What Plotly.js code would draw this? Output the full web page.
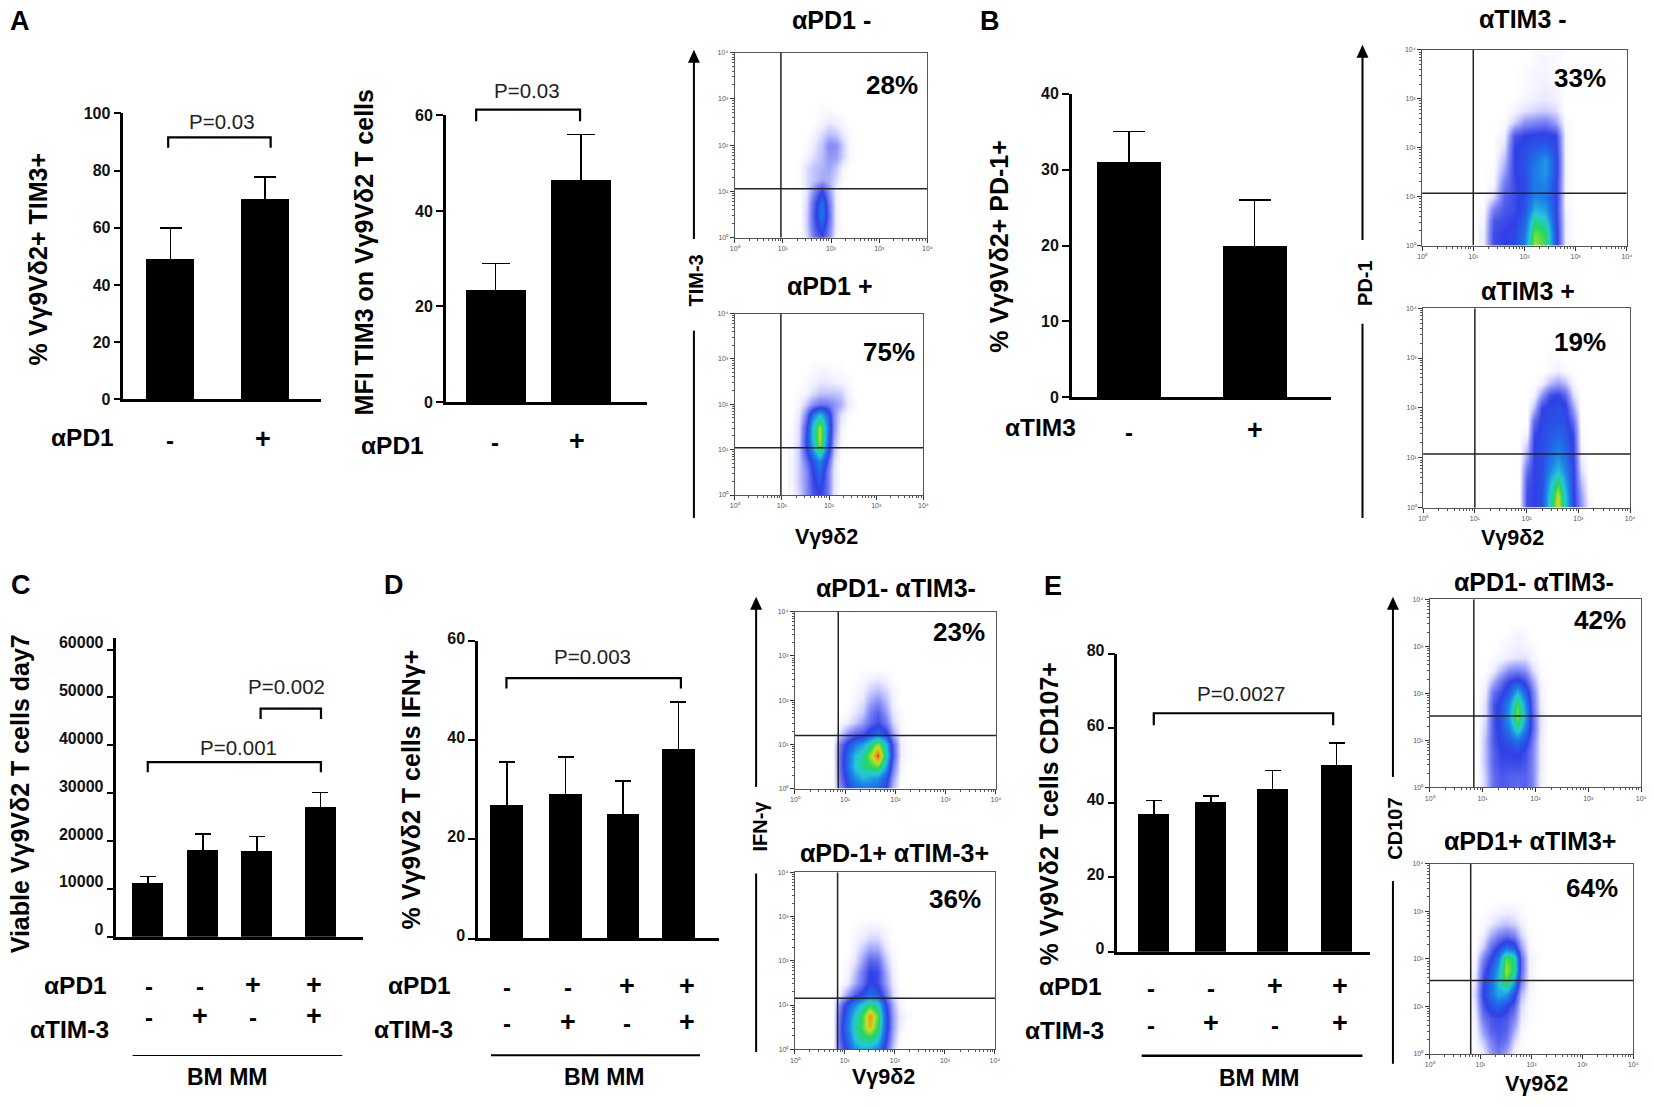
<!DOCTYPE html>
<html>
<head>
<meta charset="utf-8">
<script src="https://cdn.plot.ly/plotly-3.0.1.min.js"></script>
<style>html,body{margin:0;padding:0;background:#fff}</style>
</head>
<body>
<div id="fig" style="width:1654px;height:1108px"></div>
<script>
// bar values and +SD
const a1Values = [48.8, 69.9];
const a1Err = [11.1, 7.8];
const a2Values = [23.4, 46.4];
const a2Err = [5.6, 9.6];
const bValues = [31, 20];
const bErr = [4, 6];
const cValues = [11300, 18250, 17900, 27150];
const cErr = [1300, 3250, 3000, 2950];
const dValues = [26.9, 29.1, 25, 38.2];
const dErr = [8.7, 7.5, 6.8, 9.6];
const eValues = [37.2, 40.2, 43.9, 50.3];
const eErr = [3.4, 1.6, 4.7, 5.7];

const signsPD1 = ["-", "-", "+", "+"];
const signsTIM3 = ["-", "+", "-", "+"];

const a1Ticks = [0, 20, 40, 60, 80, 100];
const a2Ticks = [0, 20, 40, 60];
const bTicks = [0, 10, 20, 30, 40];
const cTicks = [0, 10000, 20000, 30000, 40000, 50000, 60000];
const dTicks = [0, 20, 40, 60];
const eTicks = [0, 20, 40, 60, 80];

// flow plots: density per cell estimated by eye, 0-100, rows go up from 10^0 in quarter decades
const flowY = [0, 0.25, 0.5, 0.75, 1, 1.25, 1.5, 1.75, 2, 2.25, 2.5, 2.75, 3, 3.25, 3.5, 3.75, 4];
const flowXA = [1.2, 1.35, 1.5, 1.65, 1.8, 1.95, 2.1, 2.25, 2.4, 2.55];
const flowXB1 = [1.2, 1.4, 1.6, 1.8, 2, 2.2, 2.4, 2.6, 2.8, 3];
const flowXB2 = [1.85, 2, 2.15, 2.3, 2.45, 2.6, 2.75, 2.9, 3.05, 3.2];
const flowXD = [0.75, 0.9, 1.05, 1.2, 1.35, 1.5, 1.65, 1.8, 1.95, 2.1, 2.25];
const flowXE1 = [0.9, 1.05, 1.2, 1.35, 1.5, 1.65, 1.8, 1.95, 2.1, 2.25];
const flowXE2 = [0.75, 0.9, 1.05, 1.2, 1.35, 1.5, 1.65, 1.8, 1.95, 2.1];

const densA1 = [
  [0,0,6,20,28,16,2,0,0,0],
  [0,0,8,24,36,20,3,0,0,0],
  [0,0,8,26,44,22,3,0,0,0],
  [0,0,7,24,42,20,3,0,0,0],
  [0,0,5,17,30,15,3,0,0,0],
  [0,1,6,9,13,11,6,1,0,0],
  [0,1,6,9,11,13,9,2,0,0],
  [0,0,2,6,10,15,14,7,1,0],
  [0,0,1,4,9,17,16,8,1,0],
  [0,0,0,2,6,10,8,4,1,0],
  [0,0,0,0,2,4,3,1,0,0],
  [0,0,0,0,1,1,0,0,0,0],
  [0,0,0,0,0,0,0,0,0,0]
];
const densA2 = [
  [2,6,15,26,30,22,4,0,0,0],
  [2,8,16,28,34,22,5,0,0,0],
  [2,8,16,30,40,22,5,0,0,0],
  [2,8,20,34,46,28,6,0,0,0],
  [2,8,28,50,74,42,10,1,0,0],
  [1,6,28,58,82,48,13,2,0,0],
  [1,6,26,58,80,50,16,3,0,0],
  [0,4,18,44,58,42,16,5,1,0],
  [0,2,8,16,20,20,16,12,4,1],
  [0,1,2,6,9,9,9,8,3,0],
  [0,0,1,2,4,4,3,2,1,0],
  [0,0,0,1,2,2,1,1,0,0],
  [0,0,0,0,0,0,0,0,0,0]
];
const densB1 = [
  [3,28,30,32,45,80,72,35,3,0],
  [3,28,30,32,42,76,70,35,3,0],
  [2,26,28,30,38,66,60,33,3,0],
  [1,18,26,28,34,54,50,32,2,0],
  [0,6,24,28,33,46,44,32,2,0],
  [0,2,20,28,33,44,46,32,2,0],
  [0,1,14,30,34,45,50,34,2,0],
  [0,0,10,30,34,42,50,34,2,0],
  [0,0,6,30,32,36,38,32,2,0],
  [0,0,3,26,30,32,32,30,2,0],
  [0,0,1,8,16,18,20,14,1,0],
  [0,0,0,2,5,7,8,6,0,0],
  [0,0,0,0,2,3,4,3,0,0],
  [0,0,0,0,1,2,3,2,0,0],
  [0,0,0,0,1,2,2,1,0,0],
  [0,0,0,0,0,1,2,1,0,0],
  [0,0,0,0,0,1,1,1,0,0]
];
const densB2 = [
  [0,28,30,34,62,85,60,32,16,2],
  [0,28,30,34,60,82,58,32,14,1],
  [0,26,30,33,54,70,52,32,10,0],
  [0,22,30,33,46,56,46,32,6,0],
  [0,14,30,33,42,48,42,30,3,0],
  [0,8,30,33,38,44,38,30,2,0],
  [0,2,28,32,36,38,36,28,1,0],
  [0,0,22,32,33,34,33,22,0,0],
  [0,0,10,30,32,33,32,14,0,0],
  [0,0,2,16,28,30,24,6,0,0],
  [0,0,0,3,10,14,10,2,0,0],
  [0,0,0,0,1,3,1,0,0,0],
  [0,0,0,0,1,1,0,0,0,0],
  [0,0,0,0,0,0,0,0,0,0]
];
const densD1 = [
  [0,16,30,38,40,42,38,30,10,0,0],
  [0,20,36,48,56,52,50,36,14,1,0],
  [0,22,42,58,66,70,74,52,20,2,0],
  [0,22,40,56,64,78,98,64,26,3,1],
  [0,20,34,44,52,64,80,58,24,3,1],
  [0,6,16,22,26,34,40,32,13,2,0],
  [0,1,4,8,14,22,28,20,7,1,0],
  [0,0,1,4,8,18,24,14,4,1,0],
  [0,0,0,2,5,12,16,10,3,0,0],
  [0,0,0,1,3,7,9,6,2,0,0],
  [0,0,0,0,1,3,4,2,0,0,0],
  [0,0,0,0,0,0,0,0,0,0,0]
];
const densD2 = [
  [0,20,34,48,54,52,46,28,8,0,0],
  [0,24,40,58,66,68,60,34,12,1,0],
  [0,24,44,62,74,88,70,40,14,3,0],
  [0,22,42,58,72,92,74,40,14,4,1],
  [0,18,36,48,60,70,62,34,12,2,0],
  [0,3,14,24,32,40,36,22,6,1,0],
  [0,0,4,12,22,32,28,16,4,0,0],
  [0,0,2,9,20,30,28,14,3,0,0],
  [0,0,1,5,14,24,22,10,2,0,0],
  [0,0,0,3,9,14,13,6,1,0,0],
  [0,0,0,2,4,7,7,3,0,0,0],
  [0,0,0,1,2,3,3,1,0,0,0],
  [0,0,0,0,0,0,0,0,0,0,0]
];
const densE1 = [
  [0,8,22,26,24,22,24,18,3,0],
  [0,8,22,26,24,24,24,18,3,0],
  [0,10,24,28,28,28,26,18,4,0],
  [0,10,24,30,30,32,28,18,4,0],
  [0,10,26,32,36,42,34,20,4,0],
  [0,8,26,34,44,64,44,24,5,0],
  [0,6,26,36,52,78,52,24,5,0],
  [0,6,26,34,48,74,48,22,4,0],
  [0,4,22,28,38,56,38,20,3,0],
  [0,2,12,22,30,34,28,14,2,0],
  [0,0,3,10,16,18,15,6,1,0],
  [0,0,1,2,4,5,5,2,0,0],
  [0,0,0,1,2,3,2,1,0,0],
  [0,0,0,0,1,2,1,0,0,0],
  [0,0,0,0,0,0,0,0,0,0]
];
const densE2 = [
  [0,0,3,14,20,12,2,0,0,0],
  [0,1,8,18,24,20,6,1,0,0],
  [0,2,14,24,26,24,12,2,0,0],
  [0,3,20,26,28,26,18,4,1,0],
  [0,5,26,34,38,32,24,6,1,0],
  [0,7,30,42,52,50,34,10,2,0],
  [0,5,28,42,56,72,50,18,3,0],
  [0,3,24,38,52,80,68,22,3,0],
  [0,2,18,30,44,74,66,22,3,1],
  [0,0,8,22,30,40,36,14,2,0],
  [0,0,3,12,18,22,18,7,1,0],
  [0,0,1,4,7,9,7,3,0,0],
  [0,0,0,1,2,3,3,1,0,0],
  [0,0,0,0,0,0,0,0,0,0]
];

const W = 1654, H = 1108;
const FONT = "Liberation Sans, Arial, sans-serif";
const flowColors = [
  [0, "#ffffff"], [0.04, "#ecebff"], [0.15, "#9096f8"], [0.3, "#3040e6"], [0.45, "#1c7ee8"],
  [0.58, "#25c8d8"], [0.7, "#22d860"], [0.82, "#c8e020"], [0.92, "#f09020"], [1, "#e02010"]
];

const traces = [], annotations = [], shapes = [];
const layout = {
  width: W, height: H, autosize: false,
  margin: { l: 0, r: 0, t: 0, b: 0 },
  paper_bgcolor: "#fff", plot_bgcolor: "rgba(0,0,0,0)",
  showlegend: false, bargap: 0,
  font: { family: FONT, color: "#000" },
  annotations, shapes
};
let axisNo = 0;

// pixel positions below were measured on zoomed crops; each block scales them from its crop origin
let view = { ox: 0, oy: 0, kx: 1, ky: 1 };
function crop(ox, oy, kx, ky) { view = { ox, oy, kx, ky }; }
const mx = v => view.ox + (v - view.ox) * view.kx;
const my = v => view.oy + (v - view.oy) * view.ky;

function label(text, x, y, size, opts) {
  annotations.push(Object.assign({
    text, xref: "paper", yref: "paper", x: mx(x) / W, y: 1 - my(y) / H,
    xanchor: "center", yanchor: "middle", showarrow: false,
    font: { size, color: "#000", family: FONT }
  }, opts || {}));
}
function nextAxes(box) {
  axisNo++;
  const s = axisNo === 1 ? "" : String(axisNo);
  return {
    xName: "xaxis" + s, yName: "yaxis" + s, xRef: "x" + s, yRef: "y" + s,
    xDomain: [mx(box[0]) / W, mx(box[1]) / W], yDomain: [1 - my(box[3]) / H, 1 - my(box[2]) / H]
  };
}
function underline(x0, x1, y, width) {
  shapes.push({ type: "line", xref: "paper", yref: "paper", x0: mx(x0) / W, x1: mx(x1) / W,
    y0: 1 - my(y) / H, y1: 1 - my(y) / H, line: { color: "#000", width } });
}

function barPanel(p) {
  const ax = nextAxes(p.box);
  layout[ax.xName] = {
    domain: ax.xDomain, anchor: ax.yRef, range: [(p.box[0] - p.x0) / p.unit, (p.box[1] - p.x0) / p.unit],
    showline: true, linewidth: 2.5, linecolor: "#000", showgrid: false, zeroline: false,
    ticks: "", showticklabels: false
  };
  layout[ax.yName] = {
    domain: ax.yDomain, anchor: ax.xRef, range: p.range, tickvals: p.ticks, tickformat: "d",
    showline: true, linewidth: 2.5, linecolor: "#000", showgrid: false, zeroline: false,
    ticks: "outside", ticklen: 7, tickwidth: 2, tickcolor: "#000",
    tickfont: { size: 16, family: FONT, color: "#111", weight: "bold" },
    ticklabelshift: p.labelShift || 0
  };
  traces.push({
    type: "bar", x: p.xs, y: p.values, width: p.barWidth, xaxis: ax.xRef, yaxis: ax.yRef,
    marker: { color: "#000" }, hoverinfo: "skip",
    // lower arm stays hidden inside the black bar
    error_y: { type: "data", symmetric: true, array: p.err, color: "#000", thickness: 1.6, width: p.cap }
  });
  // brackets can sit above the axis top, so use a shape in paper y
  const yPaper = v => ax.yDomain[0] + (v - p.range[0]) / (p.range[1] - p.range[0]) * (ax.yDomain[1] - ax.yDomain[0]);
  (p.brackets || []).forEach(b => {
    shapes.push({
      type: "path", xref: ax.xRef, yref: "paper", line: { color: "#000", width: 2.2 },
      path: `M ${b.x[0]} ${yPaper(b.tip)} L ${b.x[0]} ${yPaper(b.top)} L ${b.x[1]} ${yPaper(b.top)} L ${b.x[1]} ${yPaper(b.tip)}`
    });
    label(b.text, b.at[0], b.at[1], 20.5, { font: { size: 20.5, color: "#222", family: FONT } });
  });
  label("<b>" + p.title + "</b>", p.titleAt[0], p.titleAt[1], p.titleSize || 25, { textangle: -90 });
}

const minorVals = [];
for (let d = 0; d < 4; d++) for (let m = 2; m < 10; m++) minorVals.push(d + Math.log10(m));

function flowPanel(p) {
  const ax = nextAxes(p.box);
  const tick = [0, 1, 2, 3, 4];
  const base = {
    range: [0, 4], tickvals: tick, ticktext: ["10⁰", "10¹", "10²", "10³", "10⁴"],
    showline: true, mirror: true, linewidth: 1, linecolor: "#555", showgrid: false, zeroline: false,
    ticks: "outside", ticklen: 4, tickwidth: 1, tickcolor: "#333",
    tickfont: { size: 7, color: "#555", family: FONT },
    minor: { tickvals: minorVals, ticks: "outside", ticklen: 2, tickwidth: 1, tickcolor: "#555" }
  };
  layout[ax.xName] = Object.assign({ domain: ax.xDomain, anchor: ax.yRef }, base);
  layout[ax.yName] = Object.assign({ domain: ax.yDomain, anchor: ax.xRef }, base);
  traces.push({
    type: "heatmap", x: p.xs, y: flowY.slice(0, p.z.length), z: p.z, zmin: 0, zmax: 100, zsmooth: "best",
    colorscale: flowColors, showscale: false, hoverinfo: "skip", xaxis: ax.xRef, yaxis: ax.yRef
  });
  [[[p.gate[0], p.gate[0]], [0, 4]], [[0, 4], [p.gate[1], p.gate[1]]]].forEach(g => {
    traces.push({
      type: "scatter", mode: "lines", x: g[0], y: g[1], xaxis: ax.xRef, yaxis: ax.yRef, hoverinfo: "skip",
      line: { color: "#222", width: 1.5 }
    });
  });
  label("<b>" + p.title + "</b>", p.titleAt[0], p.titleAt[1], 25);
  label("<b>" + p.pct + "</b>", p.pctAt[0], p.pctAt[1], 26);
}

// arrow with a gap for the marker name, going up the two stacked flow plots
function markerAxis(name, x, top, gapTop, gapBottom, bottom, nameX, nameY) {
  const px = v => mx(v) / W, py = v => 1 - my(v) / H;
  [[top + 8, gapTop], [gapBottom, bottom]].forEach(s => {
    shapes.push({ type: "line", xref: "paper", yref: "paper", x0: px(x), x1: px(x), y0: py(s[0]), y1: py(s[1]),
      line: { color: "#000", width: 2 } });
  });
  shapes.push({ type: "path", xref: "paper", yref: "paper", fillcolor: "#000", line: { width: 0 },
    path: `M ${px(x)} ${py(top)} L ${px(x - 6)} ${py(top + 13)} L ${px(x + 6)} ${py(top + 13)} Z` });
  label("<b>" + name + "</b>", nameX, nameY, 20, { textangle: -90 });
}

function signs(list, xs, y) {
  list.forEach((s, i) => {
    label("<b>" + s + "</b>", xs[i], y + (s === "-" ? 2 : 0), s === "-" ? 24 : 27);
  });
}

const SIDE = 24.5, LETTER = 27, GROUP = 23, MARKER = 21.5;

// ---- A
crop(0, 0, 0.995, 0.995);
label("<b>A</b>", 20.5, 21.5, LETTER);
barPanel({
  box: [124, 323, 114, 401.5], x0: 171.5, unit: 95, xs: [0, 1], barWidth: 0.505, cap: 11,
  values: a1Values, err: a1Err, range: [0, 100], ticks: a1Ticks,
  brackets: [{ x: [-0.026, 1.058], top: 91.6, tip: 88, text: "P=0.03", at: [223, 122] }],
  title: "% Vγ9Vδ2+ TIM3+", titleAt: [38, 260]
});
label("<b>αPD1</b>", 83, 440, SIDE);
signs(["-", "+"], [171, 264], 441);
barPanel({
  box: [448, 650, 116, 404], x0: 498, unit: 86, xs: [0, 1], barWidth: 0.7, cap: 14,
  values: a2Values, err: a2Err, range: [0, 60], ticks: a2Ticks,
  brackets: [{ x: [-0.226, 0.988], top: 61.2, tip: 58.8, text: "P=0.03", at: [530, 90.7] }],
  title: "MFI TIM3 on Vγ9Vδ2 T cells", titleAt: [366, 253.5]
});
label("<b>αPD1</b>", 394.5, 448, SIDE);
signs(["-", "+"], [497, 580], 443);

crop(680, 0, 0.9935, 0.996);
flowPanel({ box: [735, 929, 52.8, 238.7], xs: flowXA, z: densA1, gate: [0.96, 1.06],
  title: "αPD1 -", titleAt: [832, 20], pct: "28%", pctAt: [893, 85] });
flowPanel({ box: [735, 925, 314.8, 497], xs: flowXA, z: densA2, gate: [0.98, 1.04],
  title: "αPD1 +", titleAt: [830.7, 287], pct: "75%", pctAt: [890, 353] });
label("<b>Vγ9δ2</b>", 827.7, 539.5, MARKER);
markerAxis("TIM-3", 694, 50, 240, 332, 520, 695.7, 282);

// ---- B
crop(980, 0, 0.9935, 0.996);
label("<b>B</b>", 990, 21, LETTER);
barPanel({
  box: [1072.4, 1333, 94, 399], x0: 1130, unit: 126.5, xs: [0, 1], barWidth: 0.51, cap: 16,
  values: bValues, err: bErr, range: [0, 40], ticks: bTicks,
  title: "% Vγ9Vδ2+ PD-1+", titleAt: [999, 246.8]
});
label("<b>αTIM3</b>", 1040.5, 429.6, SIDE);
signs(["-", "+"], [1130, 1256.5], 432);
flowPanel({ box: [1425, 1631, 50, 246.6], xs: flowXB1, z: densB1, gate: [1, 1.07],
  title: "αTIM3 -", titleAt: [1526.4, 18.7], pct: "33%", pctAt: [1583.5, 78] });
flowPanel({ box: [1426, 1634.4, 309.4, 509.7], xs: flowXB2, z: densB2, gate: [1, 1.075],
  title: "αTIM3 +", titleAt: [1531.6, 292.5], pct: "19%", pctAt: [1583.5, 343.5] });
label("<b>Vγ9δ2</b>", 1515.6, 540, MARKER);
markerAxis("PD-1", 1365, 45, 241, 325, 520, 1368, 283.6);

// ---- C
crop(0, 560, 0.995, 0.995);
label("<b>C</b>", 21, 585.6, LETTER);
barPanel({
  box: [117, 365, 638, 938.6], x0: 148.5, unit: 57.9, xs: [0, 0.959, 1.896, 2.998], barWidth: 0.54, cap: 8,
  values: cValues, err: cErr, range: [0, 62500], ticks: cTicks, labelShift: -7,
  brackets: [
    { x: [1.959, 3.007], top: 47660, tip: 45470, text: "P=0.002", at: [288, 687.5] },
    { x: [0, 3.005], top: 36500, tip: 34350, text: "P=0.001", at: [240, 748.6] }
  ],
  title: "Viable Vγ9Vδ2 T cells day7", titleAt: [21, 794.6]
});
label("<b>αPD1</b>", 76, 987.8, SIDE);
label("<b>αTIM-3</b>", 69.7, 1031.4, SIDE);
signs(signsPD1, [149.4, 200.7, 254.7, 315.5], 987);
signs(signsTIM3, [149.4, 200.7, 254.7, 315.5], 1018);
underline(133.3, 344, 1058, 1);
label("<b>BM MM</b>", 227.7, 1079.9, GROUP);

// ---- D
label("<b>D</b>", 396, 585.6, LETTER);
barPanel({
  box: [480.5, 722.5, 641.8, 940.4], x0: 509.5, unit: 57.5, xs: [0, 1.026, 2.03, 2.998], barWidth: 0.574, cap: 8,
  values: dValues, err: dErr, range: [0, 60], ticks: dTicks, labelShift: -3,
  brackets: [{ x: [-0.009, 3.04], top: 52.6, tip: 50.5, text: "P=0.003", at: [595, 657.3] }],
  title: "% Vγ9Vδ2 T cells IFNγ+", titleAt: [412.7, 791]
});
label("<b>αPD1</b>", 422, 987.8, SIDE);
label("<b>αTIM-3</b>", 416, 1031.4, SIDE);
signs(signsPD1, [510, 570.7, 630.5, 690.2], 988);
signs(signsTIM3, [510, 570.7, 630.5, 690.2], 1024);
underline(493.4, 703.5, 1057.7, 2);
label("<b>BM MM</b>", 607, 1079.9, GROUP);

crop(730, 570, 0.9935, 0.995);
flowPanel({ box: [795.3, 997.7, 612, 789.7], xs: flowXD, z: densD1, gate: [0.863, 1.2],
  title: "αPD1- αTIM3-", titleAt: [896.7, 588], pct: "23%", pctAt: [960, 632.8] });
flowPanel({ box: [795.3, 996.7, 873.8, 1051.7], xs: flowXD, z: densD2, gate: [0.854, 1.155],
  title: "αPD-1+ αTIM-3+", titleAt: [895.7, 854.8], pct: "36%", pctAt: [956.7, 900.3] });
label("<b>Vγ9δ2</b>", 885, 1080, MARKER);
markerAxis("IFN-γ", 756.3, 597, 788, 875, 1054.5, 760, 827);

// ---- E
crop(1040, 560, 0.9928, 0.996);
label("<b>E</b>", 1053, 586, LETTER);
barPanel({
  box: [1118, 1372, 654, 953.4], x0: 1154.6, unit: 61.4, xs: [0, 0.935, 1.95, 3], barWidth: 0.51, cap: 8,
  values: eValues, err: eErr, range: [0, 80], ticks: eTicks, labelShift: -3,
  brackets: [{ x: [0, 2.943], top: 64, tip: 60.8, text: "P=0.0027", at: [1242, 694.2] }],
  title: "% Vγ9Vδ2 T cells CD107+", titleAt: [1048.7, 815]
});
label("<b>αPD1</b>", 1071, 988, SIDE);
label("<b>αTIM-3</b>", 1064.5, 1032.7, SIDE);
signs(signsPD1, [1152, 1212.4, 1276.6, 1342], 988);
signs(signsTIM3, [1152, 1212.4, 1276.6, 1342], 1025);
underline(1142.4, 1364.8, 1057.7, 2.5);
label("<b>BM MM</b>", 1260.5, 1079.9, GROUP);
flowPanel({ box: [1432.5, 1645.5, 599.3, 788.3], xs: flowXE1, z: densE1, gate: [0.835, 1.517],
  title: "αPD1- αTIM3-", titleAt: [1538, 581.8], pct: "42%", pctAt: [1603.8, 620.4] });
flowPanel({ box: [1432.5, 1637.6, 864.9, 1056], xs: flowXE2, z: densE2, gate: [0.806, 1.544],
  title: "αPD1+ αTIM3+", titleAt: [1534, 841.7], pct: "64%", pctAt: [1596, 889.5] });
label("<b>Vγ9δ2</b>", 1540, 1085.8, MARKER);
markerAxis("CD107", 1395.5, 597, 777.8, 882.4, 1065.8, 1397.5, 829.8);

Plotly.newPlot("fig", traces, layout, { displayModeBar: false, responsive: false });
</script>
</body>
</html>
